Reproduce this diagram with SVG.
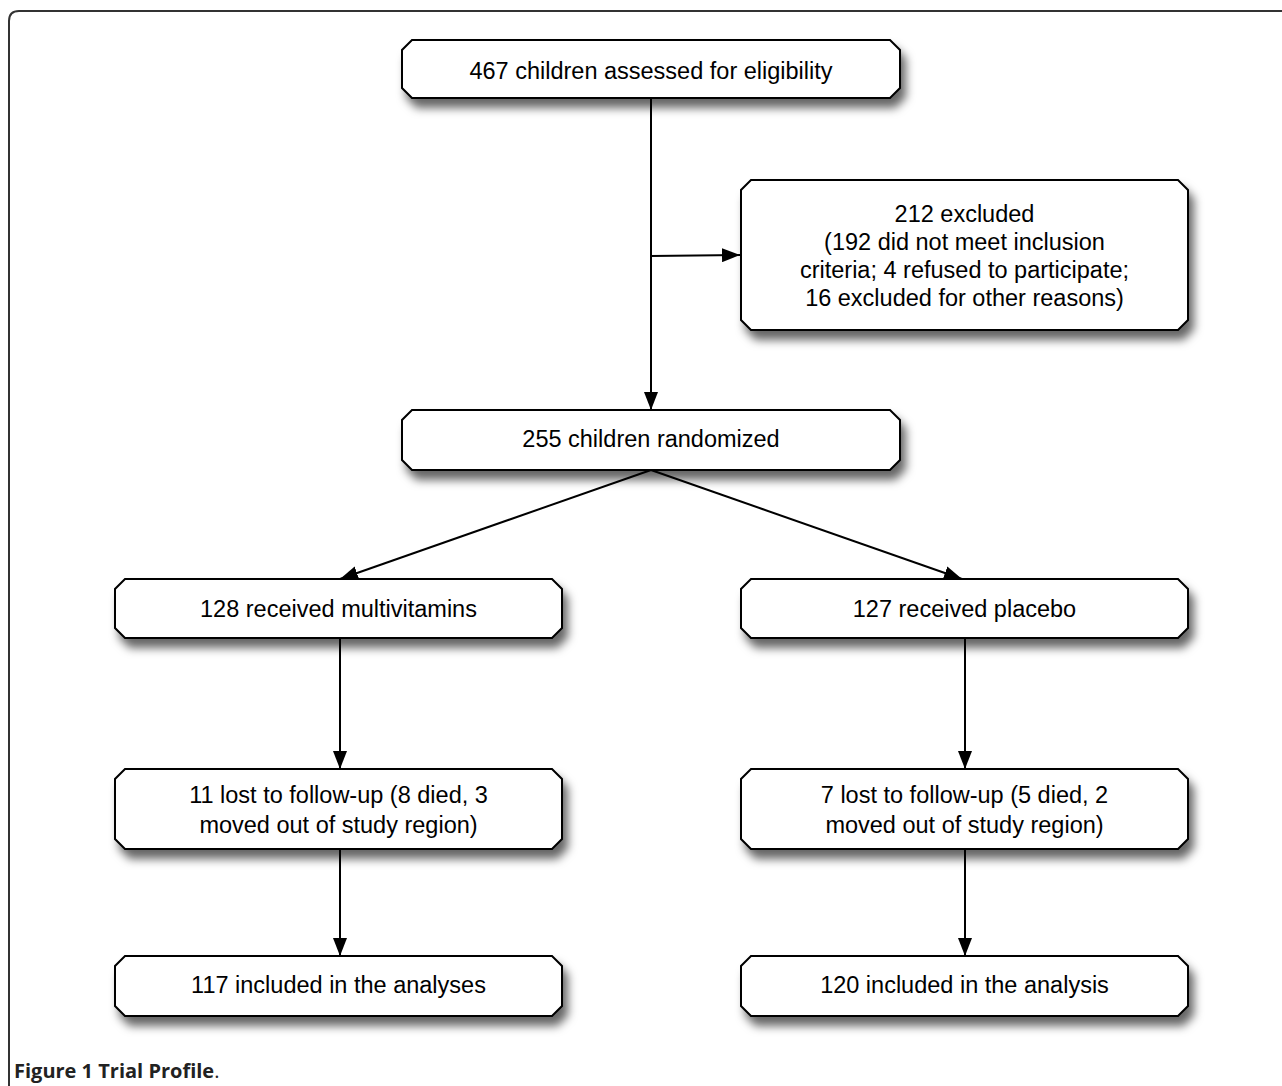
<svg xmlns="http://www.w3.org/2000/svg" width="1282" height="1086" viewBox="0 0 1282 1086">
<defs>
<style>
.box{fill:#fff;stroke:#000;stroke-width:2;filter:url(#sh)}
.t{font-family:"Liberation Sans",Arial,sans-serif;font-size:23.5px;fill:#000;text-anchor:middle}
.c{stroke:#000;stroke-width:2;fill:none;marker-end:url(#ah)}
.cap{font-family:"Open Sans","DejaVu Sans",sans-serif;font-size:20px;fill:#222}
</style>
<filter id="sh" x="-10%" y="-20%" width="130%" height="170%">
<feDropShadow dx="5" dy="9" stdDeviation="5" flood-color="#000" flood-opacity="0.6"/>
</filter>
<marker id="ah" viewBox="0 0 18 14" refX="18" refY="7" markerWidth="18" markerHeight="14" markerUnits="userSpaceOnUse" orient="auto">
<path d="M0,0 L18,7 L0,14 Z" fill="#000"/>
</marker>
</defs>
<rect width="1282" height="1086" fill="#fff"/>
<path d="M9,1090 V21 Q9,11 19,11 H1290" fill="none" stroke="#333" stroke-width="2"/>
<g id="connectors">
<line class="c" x1="651" y1="98" x2="651" y2="410"/>
<line class="c" x1="651" y1="256" x2="740" y2="255"/>
<line class="c" x1="651" y1="470" x2="340" y2="579"/>
<line class="c" x1="651" y1="470" x2="962" y2="579"/>
<line class="c" x1="340" y1="638" x2="340" y2="769"/>
<line class="c" x1="965" y1="638" x2="965" y2="769"/>
<line class="c" x1="340" y1="849" x2="340" y2="956"/>
<line class="c" x1="965" y1="849" x2="965" y2="956"/>
</g>
<g id="n1">
<path class="box" d="M412,40 H890 L900,50 V88 L890,98 H412 L402,88 V50 Z"/>
<text class="t" x="651" y="79">467 children assessed for eligibility</text>
</g>
<g id="n2">
<path class="box" d="M751,180 H1178 L1188,190 V320 L1178,330 H751 L741,320 V190 Z"/>
<text class="t" x="964.5" y="221.5">212 excluded</text>
<text class="t" x="964.5" y="249.5">(192 did not meet inclusion</text>
<text class="t" x="964.5" y="277.5">criteria; 4 refused to participate;</text>
<text class="t" x="964.5" y="305.5">16 excluded for other reasons)</text>
</g>
<g id="n3">
<path class="box" d="M412,410 H890 L900,420 V460 L890,470 H412 L402,460 V420 Z"/>
<text class="t" x="651" y="447">255 children randomized</text>
</g>
<g id="n4">
<path class="box" d="M125,579 H552 L562,589 V628 L552,638 H125 L115,628 V589 Z"/>
<text class="t" x="338.5" y="617">128 received multivitamins</text>
</g>
<g id="n5">
<path class="box" d="M751,579 H1178 L1188,589 V628 L1178,638 H751 L741,628 V589 Z"/>
<text class="t" x="964.5" y="617">127 received placebo</text>
</g>
<g id="n6">
<path class="box" d="M125,769 H552 L562,779 V839 L552,849 H125 L115,839 V779 Z"/>
<text class="t" x="338.5" y="803">11 lost to follow-up (8 died, 3</text>
<text class="t" x="338.5" y="833">moved out of study region)</text>
</g>
<g id="n7">
<path class="box" d="M751,769 H1178 L1188,779 V839 L1178,849 H751 L741,839 V779 Z"/>
<text class="t" x="964.5" y="803">7 lost to follow-up (5 died, 2</text>
<text class="t" x="964.5" y="833">moved out of study region)</text>
</g>
<g id="n8">
<path class="box" d="M125,956 H552 L562,966 V1006 L552,1016 H125 L115,1006 V966 Z"/>
<text class="t" x="338.5" y="993">117 included in the analyses</text>
</g>
<g id="n9">
<path class="box" d="M751,956 H1178 L1188,966 V1006 L1178,1016 H751 L741,1006 V966 Z"/>
<text class="t" x="964.5" y="993">120 included in the analysis</text>
</g>
<text class="cap" x="14" y="1078"><tspan font-weight="bold">Figure 1 Trial Profile</tspan>.</text>
</svg>
